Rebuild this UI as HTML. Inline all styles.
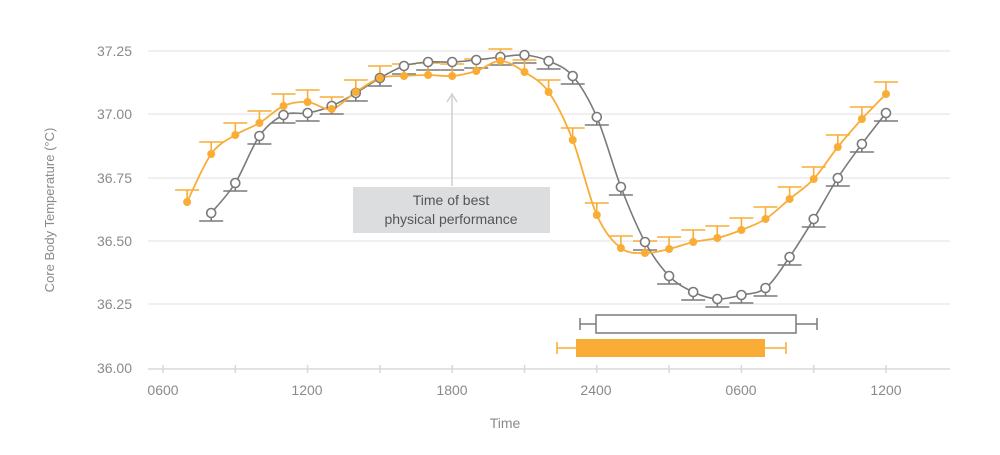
<!DOCTYPE html>
<html><head><meta charset="utf-8"><style>
body{margin:0;background:#fff;}
svg{display:block;font-family:"Liberation Sans",sans-serif;}
</style></head><body>
<svg id="s" width="1000" height="455" viewBox="0 0 1000 455">
<g stroke="#ececec" stroke-width="1.5">
<line x1="148" y1="51" x2="950" y2="51"/><line x1="148" y1="114" x2="950" y2="114"/>
<line x1="148" y1="178" x2="950" y2="178"/><line x1="148" y1="241" x2="950" y2="241"/>
<line x1="148" y1="304" x2="950" y2="304"/>
</g>
<line x1="148" y1="369" x2="950" y2="369" stroke="#d8d8d8" stroke-width="1.5"/>
<g id="ticks" stroke="#d8d8d8" stroke-width="1.5"></g>
<g fill="#8a8a8a" font-size="14" text-anchor="end">
<text x="132" y="56">37.25</text><text x="132" y="119">37.00</text><text x="132" y="183">36.75</text>
<text x="132" y="246">36.50</text><text x="132" y="309">36.25</text><text x="132" y="373">36.00</text>
</g>
<g fill="#8a8a8a" font-size="14" text-anchor="middle">
<text x="163" y="395">0600</text><text x="307" y="395">1200</text><text x="452" y="395">1800</text>
<text x="596" y="395">2400</text><text x="741" y="395">0600</text><text x="886" y="395">1200</text>
<text x="505" y="428">Time</text>
</g>
<text transform="translate(54,210) rotate(-90)" fill="#8a8a8a" font-size="13" text-anchor="middle">Core Body Temperature (°C)</text>
<line x1="452" y1="186" x2="452" y2="96" stroke="#cfcfcf" stroke-width="1.5"/>
<path d="M447,102 L452,94 L457,102" fill="none" stroke="#cfcfcf" stroke-width="1.5"/>
<rect x="353" y="187" width="197" height="46" fill="#dcdddf"/>
<g fill="#555" font-size="14" text-anchor="middle">
<text x="451" y="205">Time of best</text><text x="451" y="224">physical performance</text>
</g>
<g stroke="#7a7a7a" stroke-width="1.5" fill="#fff">
<line x1="580" y1="324" x2="596" y2="324"/><line x1="796" y1="324" x2="817" y2="324"/>
<line x1="580" y1="318" x2="580" y2="330"/><line x1="817" y1="318" x2="817" y2="330"/>
<rect x="596" y="315" width="200" height="18"/>
</g>
<g stroke="#f9ad36" stroke-width="1.5">
<line x1="557" y1="348" x2="576" y2="348"/><line x1="765" y1="348" x2="786" y2="348"/>
<line x1="557" y1="342" x2="557" y2="354"/><line x1="786" y1="342" x2="786" y2="354"/>
</g>
<rect x="576" y="339" width="189" height="18" fill="#f9ad36"/>
<g id="data"></g>
</svg>
<script>
var ns="http://www.w3.org/2000/svg";
function el(t,a,p){var e=document.createElementNS(ns,t);for(var k in a)e.setAttribute(k,a[k]);p.appendChild(e);return e;}
var tk=document.getElementById('ticks');
for(var i=0;i<=10;i++){var x=163+i*72.3;el('line',{x1:x,y1:365,x2:x,y2:373},tk);}
var d=document.getElementById('data');
var O=[202,154,135,123,106,102,109,92,78,76,75,76,71,61,72,92,140,215,248,253,249,242,238,230,219,199,179,147,119,94];
var G=[213,183,136,115,113,106,93,78,66,62,62,60,57,55,61,76,117,187,242,276,292,299,295,288,257,219,178,144,113];
function pts(arr,h0){return arr.map(function(y,i){return [163+(h0+i)*24.1,y];});}
function path(p){var s="M"+p[0][0]+","+p[0][1];for(var i=0;i<p.length-1;i++){var a=p[i-1]||p[i],b=p[i],c=p[i+1],e=p[i+2]||c;
s+=" C"+(b[0]+(c[0]-a[0])/6)+","+(b[1]+(c[1]-a[1])/6)+" "+(c[0]-(e[0]-b[0])/6)+","+(c[1]-(e[1]-b[1])/6)+" "+c[0]+","+c[1];}return s;}
var po=pts(O,1),pg=pts(G,2);
var gg=el('g',{stroke:'#7a7a7a','stroke-width':1.6,fill:'none'},d);
pg.forEach(function(p){el('line',{x1:p[0],y1:p[1],x2:p[0],y2:p[1]+8},gg);el('line',{x1:p[0]-12,y1:p[1]+8,x2:p[0]+12,y2:p[1]+8},gg);});
var go=el('g',{stroke:'#f9ad36','stroke-width':1.6,fill:'none'},d);
po.forEach(function(p){el('line',{x1:p[0],y1:p[1],x2:p[0],y2:p[1]-12},go);el('line',{x1:p[0]-12,y1:p[1]-12,x2:p[0]+12,y2:p[1]-12},go);});
el('path',{d:path(pg),stroke:'#7a7a7a','stroke-width':1.6,fill:'none'},d);
el('path',{d:path(po),stroke:'#f9ad36','stroke-width':1.8,fill:'none'},d);
pg.forEach(function(p){el('circle',{cx:p[0],cy:p[1],r:4.5,fill:'#fff',stroke:'#7a7a7a','stroke-width':1.6},d);});
po.forEach(function(p){el('circle',{cx:p[0],cy:p[1],r:4,fill:'#f9ad36'},d);});
</script>
</body></html>
